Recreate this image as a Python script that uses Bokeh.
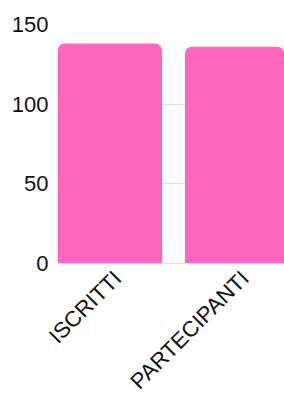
import math
from bokeh.plotting import figure
from bokeh.models import Range1d, FixedTicker, ColumnDataSource
from bokeh.embed import file_html
from bokeh.resources import INLINE

categories = ["ISCRITTI", "PARTECIPANTI"]
values = [138, 136]
y_ticks = [0, 50, 100, 150]

positions = [i + 0.5 for i in range(len(categories))]
label_shift = 0.06  # labels sit slightly right of bar centres
label_pos = [x + label_shift for x in positions]
src = ColumnDataSource(dict(x=positions, top=values, cat=categories))

p = figure(width=284, height=405, output_backend="svg", toolbar_location=None,
           x_range=Range1d(0.09, 1.87), y_range=Range1d(0, 150),
           min_border_left=57, min_border_right=0, min_border_top=24, min_border_bottom=142)
p.outline_line_color = None

p.vbar(x="x", top="top", width=0.82, source=src, fill_color="#ff66bf", line_color=None,
       border_radius=(7, 7, 0, 0))

font = "Liberation Sans"
p.xaxis.ticker = FixedTicker(ticks=label_pos)
p.xaxis.major_label_overrides = {pos: c for pos, c in zip(label_pos, categories)}
p.xaxis.major_label_orientation = math.pi / 4
p.xaxis.major_tick_line_color = None
p.xaxis.minor_tick_line_color = None
p.xaxis.axis_line_color = "#dddddd"
p.xaxis.major_label_text_font = font
p.xaxis.major_label_text_font_size = "22px"
p.xaxis.major_label_text_color = "#111111"
p.xaxis.major_label_text_baseline = "top"
p.xaxis.major_label_standoff = 5

p.yaxis.ticker = FixedTicker(ticks=y_ticks)
p.yaxis.axis_line_color = None
p.yaxis.major_tick_line_color = None
p.yaxis.minor_tick_line_color = None
p.yaxis.major_label_text_font = font
p.yaxis.major_label_text_font_size = "22px"
p.yaxis.major_label_text_color = "#111111"
p.yaxis.major_label_standoff = 3

p.xgrid.grid_line_color = None
p.ygrid.ticker = FixedTicker(ticks=y_ticks)
p.ygrid.grid_line_color = "#dddddd"

open("out.html", "w").write(file_html(p, INLINE))
